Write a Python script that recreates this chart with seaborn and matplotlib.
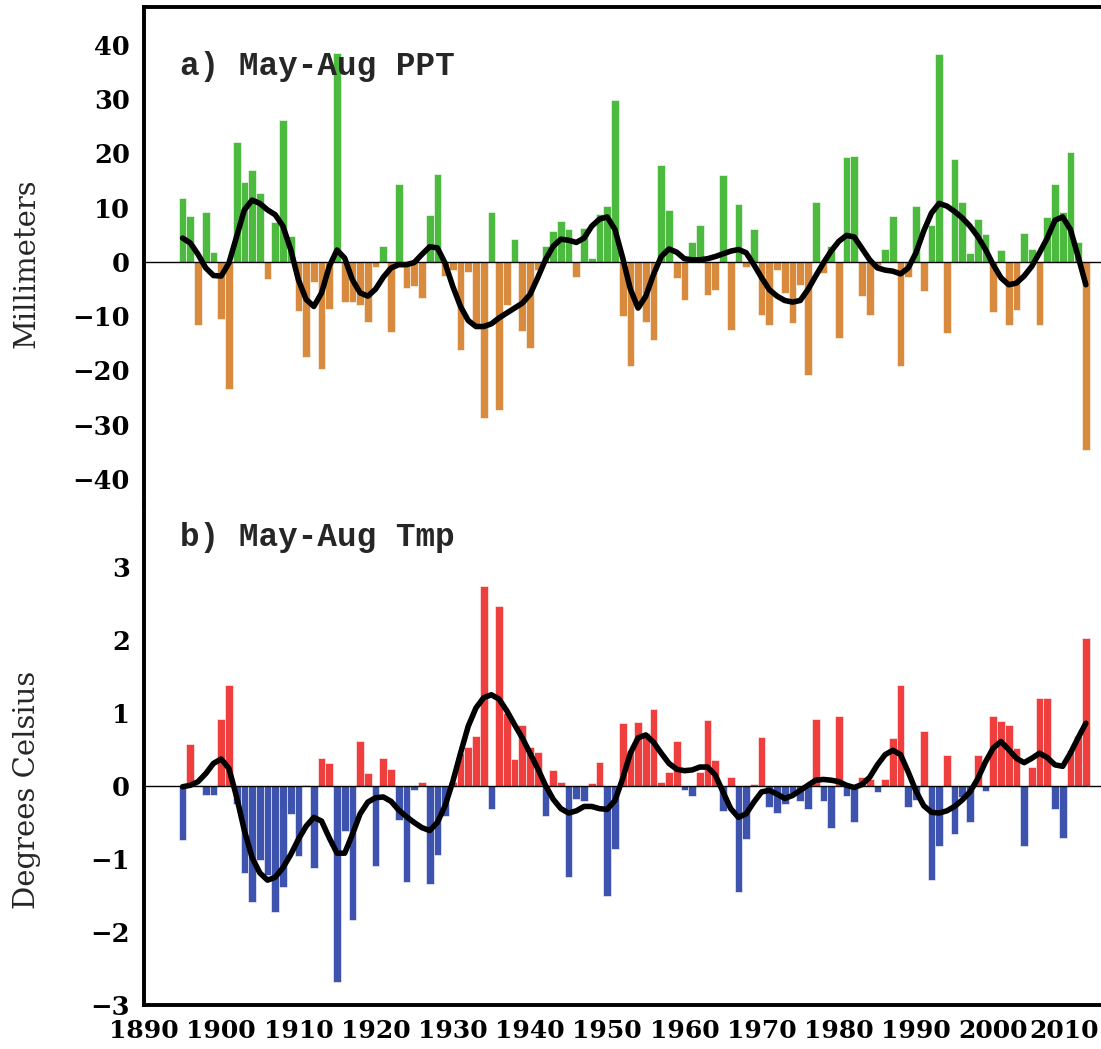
import numpy as np
import pandas as pd
import matplotlib
matplotlib.use("Agg")
import matplotlib.pyplot as plt
import matplotlib.transforms as mtransforms
import seaborn as sns

# ---------------- data ----------------
years = np.arange(1895, 2013)

ppt_anom = [11.8, 8.5, -11.7, 9.2, 1.8, -10.5, -23.4, 22.2, 14.8, 16.9,
            12.8, -3.1, 7.4, 26.2, 4.7, -9.0, -17.5, -3.7, -19.8, -8.7,
            38.5, -7.3, -7.3, -7.9, -11.1, -1.0, 2.9, -13.0, 14.4, -4.8,
            -4.5, -6.6, 8.7, 16.3, -2.5, -1.5, -16.3, -1.8, -12.0, -28.8,
            9.2, -27.3, -8.0, 4.3, -12.7, -15.9, -1.5, 3.0, 5.7, 7.5,
            6.0, -2.8, 6.3, 0.7, 8.8, 10.4, 29.8, -10.0, -19.1, -8.5,
            -11.1, -14.3, 17.8, 9.6, -2.9, -7.1, 3.7, 6.9, -6.0, -5.1,
            16.1, -12.5, 10.6, -1.0, 6.1, -9.7, -11.7, -1.4, -5.7, -11.2,
            -4.2, -20.8, 11.0, -2.0, 2.9, -14.0, 19.3, 19.5, -6.3, -9.7,
            -1.0, 2.4, 8.4, -19.1, -2.8, 10.4, -5.4, 6.9, 38.3, -13.1,
            19.0, 11.0, 1.7, 7.9, 5.2, -9.3, 2.2, -11.7, -8.8, 5.3,
            2.4, -11.6, 8.3, 14.3, 9.2, 20.3, 3.7, -34.6]

ppt_smooth = [4.4, 3.5, 1.4, -1.1, -2.5, -2.6, -0.2, 4.7, 9.6, 11.4,
              10.8, 9.6, 8.7, 6.6, 2.3, -3.3, -6.9, -8.2, -5.7, -0.8,
              2.2, 0.7, -3.3, -5.7, -6.3, -5.0, -2.8, -1.1, -0.5, -0.5,
              -0.1, 1.4, 2.8, 2.6, -0.2, -4.5, -8.2, -10.8, -11.9, -11.9,
              -11.4, -10.3, -9.4, -8.5, -7.6, -6.0, -2.9, 0.4, 2.9, 4.2,
              4.0, 3.6, 4.4, 6.6, 7.9, 8.3, 6.0, 0.8, -5.0, -8.5,
              -6.3, -2.3, 1.0, 2.4, 1.8, 0.6, 0.4, 0.4, 0.6, 1.0,
              1.5, 2.0, 2.3, 1.7, -0.5, -2.9, -5.1, -6.3, -7.1, -7.4,
              -7.1, -5.1, -2.6, -0.2, 2.0, 3.8, 4.9, 4.6, 2.5, 0.4,
              -1.1, -1.5, -1.7, -2.2, -1.1, 1.7, 5.7, 9.0, 10.8, 10.3,
              9.3, 8.1, 6.6, 4.7, 2.3, -0.5, -2.9, -4.2, -3.9, -2.6,
              -0.8, 1.7, 4.4, 7.7, 8.3, 6.0, 1.0, -4.2]

tmp_anom = [-0.74, 0.58, 0.02, -0.12, -0.12, 0.92, 1.39, -0.25, -1.19, -1.59,
            -1.01, -1.22, -1.72, -1.38, -0.38, -0.96, 0.02, -1.12, 0.39, 0.32,
            -2.69, -0.61, -1.84, 0.62, 0.18, -1.09, 0.38, 0.24, -0.47, -1.32,
            -0.05, 0.06, -1.34, -0.94, -0.41, 0.06, 0.45, 0.54, 0.69, 2.74,
            -0.31, 2.47, 1.00, 0.37, 0.83, 0.54, 0.47, -0.41, 0.22, 0.06,
            -1.25, -0.18, -0.20, 0.04, 0.33, -1.50, -0.86, 0.86, 0.50, 0.88,
            0.72, 1.06, 0.06, 0.19, 0.62, -0.05, -0.13, 0.19, 0.90, 0.35,
            -0.34, 0.12, -1.45, -0.73, 0.03, 0.67, -0.29, -0.37, -0.24, -0.10,
            -0.20, -0.32, 0.92, -0.21, -0.57, 0.96, -0.14, -0.49, 0.12, 0.10,
            -0.08, 0.10, 0.66, 1.39, -0.29, -0.19, 0.76, -1.29, -0.82, 0.43,
            -0.66, -0.15, -0.49, 0.43, -0.07, 0.96, 0.89, 0.83, 0.52, -0.82,
            0.26, 1.21, 1.21, -0.31, -0.71, 0.50, 0.69, 2.03]

tmp_smooth = [-0.01, 0.01, 0.06, 0.17, 0.31, 0.37, 0.24, -0.15, -0.61, -0.98,
              -1.19, -1.29, -1.25, -1.12, -0.94, -0.73, -0.55, -0.43, -0.48, -0.71,
              -0.92, -0.92, -0.66, -0.38, -0.22, -0.16, -0.15, -0.21, -0.33, -0.42,
              -0.50, -0.57, -0.61, -0.50, -0.27, 0.06, 0.45, 0.82, 1.07, 1.21,
              1.25, 1.19, 1.03, 0.84, 0.66, 0.45, 0.24, 0.01, -0.18, -0.31,
              -0.37, -0.34, -0.28, -0.28, -0.31, -0.32, -0.20, 0.10, 0.45, 0.66,
              0.70, 0.60, 0.45, 0.31, 0.23, 0.21, 0.22, 0.26, 0.26, 0.15,
              -0.08, -0.31, -0.43, -0.38, -0.22, -0.08, -0.06, -0.11, -0.17, -0.13,
              -0.06, 0.01, 0.08, 0.09, 0.08, 0.06, 0.01, -0.02, 0.02, 0.12,
              0.29, 0.43, 0.49, 0.43, 0.19, -0.07, -0.27, -0.36, -0.37, -0.34,
              -0.28, -0.19, -0.08, 0.10, 0.33, 0.52, 0.61, 0.50, 0.38, 0.32,
              0.38, 0.45, 0.39, 0.29, 0.27, 0.45, 0.66, 0.86]

ppt_ticks = [-40, -30, -20, -10, 0, 10, 20, 30, 40]
tmp_ticks = [-3, -2, -1, 0, 1, 2, 3]
year_ticks = list(range(1890, 2011, 10))

GREEN, ORANGE = "#4cba3e", "#d88b3f"
RED, BLUE = "#ee3e3e", "#3e53ae"

# ---------------- figure ----------------
sns.set_style("white")
plt.rcParams["font.family"] = ["DejaVu Serif", "DejaVu Sans"]

W, H = 1101, 1049
fig = plt.figure(figsize=(W / 100, H / 100), dpi=100)
left = 144 / W
y_top, y_mid, y_bot = 7, 505, 1005
ax1 = fig.add_axes([left, 1 - y_mid / H, 1 - left, (y_mid - y_top) / H])
ax2 = fig.add_axes([left, 1 - y_bot / H, 1 - left, (y_bot - y_mid) / H])

df_p = pd.DataFrame({"year": years, "value": ppt_anom,
                     "sign": np.where(np.array(ppt_anom) >= 0, "pos", "neg")})
df_t = pd.DataFrame({"year": years, "value": tmp_anom,
                     "sign": np.where(np.array(tmp_anom) >= 0, "pos", "neg")})

sns.barplot(data=df_p, x="year", y="value", hue="sign",
            palette={"pos": GREEN, "neg": ORANGE}, native_scale=True,
            dodge=False, width=1.0, errorbar=None, legend=False,
            linewidth=0.4, edgecolor="white", saturation=1, ax=ax1, zorder=2)
sns.barplot(data=df_t, x="year", y="value", hue="sign",
            palette={"pos": RED, "neg": BLUE}, native_scale=True,
            dodge=False, width=1.0, errorbar=None, legend=False,
            linewidth=0.4, edgecolor="white", saturation=1, ax=ax2, zorder=2)

for ax in (ax1, ax2):
    ax.axhline(0, color="black", lw=1.0, zorder=3)

sns.lineplot(x=years, y=ppt_smooth, color="black", linewidth=4.0, ax=ax1,
             zorder=4, solid_capstyle="round", solid_joinstyle="round")
sns.lineplot(x=years, y=tmp_smooth, color="black", linewidth=4.0, ax=ax2,
             zorder=4, solid_capstyle="round", solid_joinstyle="round")

xmax = 1890 + (W - 144) / 7.72
for ax in (ax1, ax2):
    ax.set_xlim(1890, xmax)
    ax.set_facecolor("white")
    ax.set_xlabel("")
    ax.set_ylabel("")
    ax.spines["right"].set_visible(False)
    for s in ax.spines.values():
        s.set_linewidth(2.8)
        s.set_color("black")

ax1.set_ylim(-44.8, 47.0)
ax2.set_ylim(-3.0, 3.85)
ax1.spines["bottom"].set_visible(False)
ax2.spines["top"].set_visible(False)

ax1.set_xticks([])
ax1.set_yticks(ppt_ticks, [str(v).replace("-", "\u2212") for v in ppt_ticks])
ax2.set_yticks(tmp_ticks, [str(v).replace("-", "\u2212") for v in tmp_ticks])
ax2.set_xticks(year_ticks, [str(v) for v in year_ticks])

for ax in (ax1, ax2):
    ax.tick_params(axis="y", direction="out", length=7, width=2.2,
                   labelsize=18.5, pad=3, colors="black")
ax2.tick_params(axis="x", direction="out", length=7, width=2.2,
                labelsize=18, pad=3, colors="black")
for ax in (ax1, ax2):
    for lab in ax.get_yticklabels() + ax.get_xticklabels():
        lab.set_fontweight("bold")

# keep the last year label inside the picture edge
last = ax2.get_xticklabels()[-1]
last.set_transform(last.get_transform() +
                   mtransforms.ScaledTranslation(-6 / 100, 0, fig.dpi_scale_trans))

fig.text(27 / W, 1 - 263 / H, "Millimeters", rotation=90, ha="center",
         va="center", fontsize=21)
fig.text(27 / W, 1 - 790 / H, "Degrees Celsius", rotation=90, ha="center",
         va="center", fontsize=21)

mono = ["Liberation Mono", "DejaVu Sans Mono"]
fig.text(180 / W, 1 - 75 / H, "a) May-Aug PPT", family=mono,
         fontweight="bold", fontsize=23.5, va="baseline", ha="left")
fig.text(180 / W, 1 - 546 / H, "b) May-Aug Tmp", family=mono,
         fontweight="bold", fontsize=23.5, va="baseline", ha="left")

fig.savefig("out.png", dpi=100, facecolor="white")
